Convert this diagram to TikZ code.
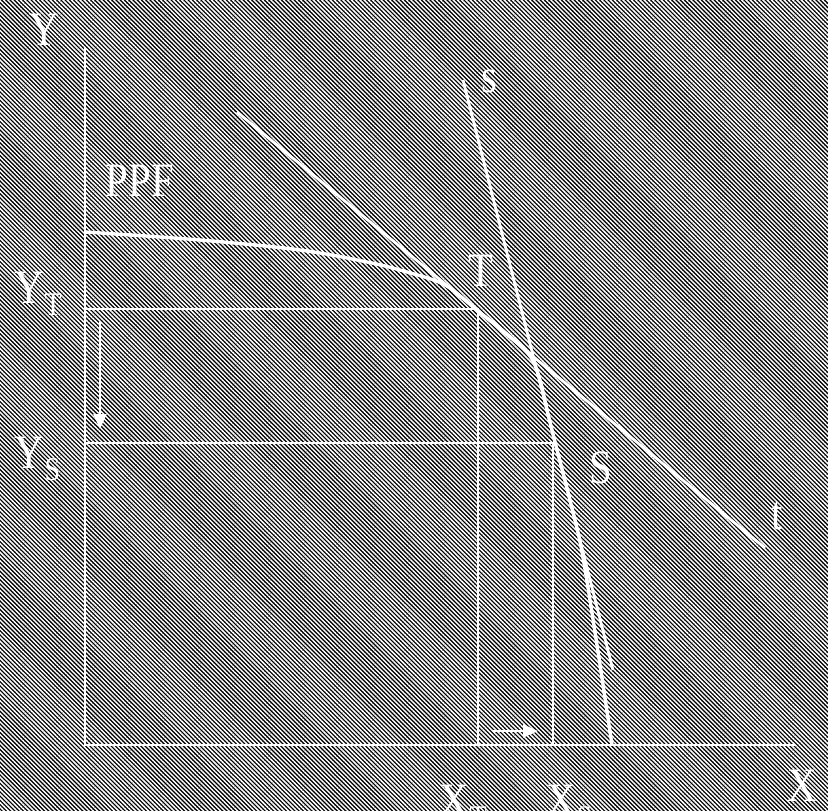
\documentclass[tikz,border=0pt]{standalone}
\usepackage{fontspec}
\setmainfont{Liberation Serif}[FakeStretch=0.85]
\usetikzlibrary{patterns.meta,arrows.meta}
\tikzset{
  lab/.style={inner sep=0pt,text=white,font=\fontsize{48}{48}\selectfont},
  axis/.style={white,line width=2.2pt},
  guide/.style={white,line width=1.8pt},
  tangent/.style={white,line width=2.8pt},
  frontier/.style={white,line width=3.4pt,line join=round},
  shift arrow/.style={white,line width=2.2pt,-{Triangle[length=15pt,width=13pt]}},
}
\newcommand{\sublab}[2]{#1\kern1pt\raisebox{-12pt}{\fontsize{33}{33}\selectfont #2}}

\begin{document}
\begin{tikzpicture}[x=1pt,y=-1pt]
	% hatched background
	\useasboundingbox (0,0) rectangle (828,811);
	\clip (0,0) rectangle (828,811);
	\fill[black] (0,0) rectangle (828,811);
	\fill[pattern={Lines[angle=-45,distance=3pt,line width=1.5pt]},pattern color=white] (0,0) rectangle (828,811);
	% axes
	\coordinate (O) at (85,745);
	\coordinate (Ytop) at (85,48);
	\coordinate (Xend) at (795,745);
	\draw[axis] (Ytop) -- (O) -- (Xend);
	% tangency points and tangent lines
	\coordinate (T) at (478,309);
	\coordinate (S) at (553,443);
	\coordinate (t0) at (237,112);
	\coordinate (t1) at (765,548);
	\coordinate (s0) at (463,80);
	\coordinate (s1) at (613,670);
	\draw[tangent] (t0) -- (t1);
	\draw[tangent] (s0) -- (s1);
	% production possibility frontier
	\draw[frontier] plot[smooth,tension=0.55] coordinates {(85,232) (200,240) (300,250) (367,262) (407,272) (445,285) (478,311) (507,334) (530,356) (540,380) (548,414) (555,442) (570,500) (582,552) (597,645) (612,745)};
	% guide lines
	\draw[guide] (O |- T) -- (T) -- (T |- O);
	\draw[guide] (O |- S) -- (S) -- (S |- O);
	% shift arrows
	\coordinate (dA) at (100,322);
	\coordinate (dB) at (100,429);
	\coordinate (rA) at (493,731);
	\coordinate (rB) at (538,731);
	\draw[shift arrow] (dA) -- (dB);
	\draw[shift arrow] (rA) -- (rB);
	% labels
	\node[lab] (lY) at (44,30) {Y};
	\node[lab] (lX) at (802,786) {X};
	\node[lab] (lPPF) at (140,181) {PPF};
	\node[lab] (lT) at (481,271) {T};
	\node[lab] (lS) at (601,468) {S};
	\node[lab] (ls) at (489,81) {s};
	\node[lab] (lt) at (777,516) {t};
	\node[lab,anchor=base west] (lYT) at (14,303) {\sublab{Y}{T}};
	\node[lab,anchor=base west] (lYS) at (14,468) {\sublab{Y}{S}};
	\node[lab,anchor=base west] (lXT) at (439,816) {\sublab{X}{T}};
	\node[lab,anchor=base west] (lXS) at (546,816) {\sublab{X}{S}};
\end{tikzpicture}
\end{document}
